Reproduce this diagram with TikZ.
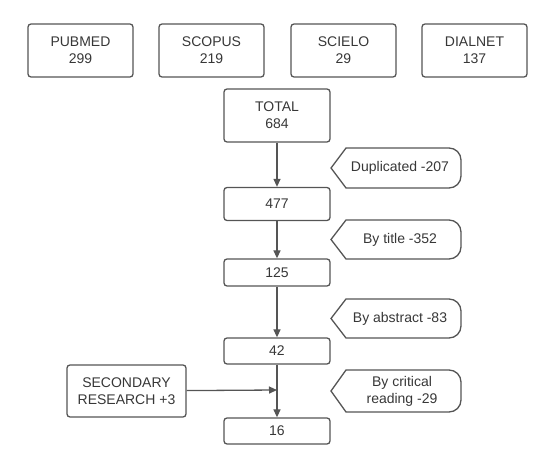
\documentclass[tikz,border=0pt]{standalone}
\usepackage{fontspec}
\setmainfont{Liberation Sans}
\usetikzlibrary{arrows.meta}
\definecolor{boxline}{RGB}{85, 85, 85}
\definecolor{boxtext}{RGB}{55, 55, 55}

\begin{document}
\begin{tikzpicture}[
        x=1pt, y=1pt,
        every node/.style={align=center, text=boxtext, font=\fontsize{14}{17}\selectfont},
        srcbox/.style={draw=boxline, line width=1.3pt, rounded corners=3pt, minimum width=105pt, minimum height=53pt, inner sep=0pt},
        stepbox/.style={draw=boxline, line width=1.3pt, rounded corners=3pt, minimum width=106pt, inner sep=0pt},
        cutline/.style={draw=boxline, line width=1.3pt},
        flow/.style={draw=boxline, line width=1.3pt, -{Triangle[length=8pt, width=7pt]}}
    ]
        \useasboundingbox (0,0) rectangle (550,456);

        % Databases
        \node[srcbox] (pubmed) at (80.5,405.5) {PUBMED\\299};
        \node[srcbox] (scopus) at (211.5,405.5) {SCOPUS\\219};
        \node[srcbox] (scielo) at (343.5,405.5) {SCIELO\\29};
        \node[srcbox] (dialnet) at (474.5,405.5) {DIALNET\\137};

        % Screening steps
        \node[stepbox, minimum height=53pt] (total) at (277,340.5) {TOTAL\\684};
        \node[stepbox, minimum height=33pt] (n477) at (277,252) {477};
        \node[stepbox, minimum height=27pt] (n125) at (277,183.5) {125};
        \node[stepbox, minimum height=26pt] (n42) at (277,105) {42};
        \node[stepbox, minimum height=26pt] (n16) at (277,25) {16};
        \node[srcbox, minimum width=119pt, minimum height=52pt] (second) at (126.5,65) {SECONDARY\\RESEARCH +3};
        \coordinate (join) at (277,66);

        % Exclusions
        \draw[cutline] (331,288) -- (346,308) -- (449,308) arc[start angle=90, end angle=0, radius=12]
            -- (461,280) arc[start angle=0, end angle=-90, radius=12] -- (346,268) -- cycle;
        \node (dup) at (400,288) {Duplicated -207};
        \draw[cutline] (331,216.5) -- (346,236) -- (449,236) arc[start angle=90, end angle=0, radius=12]
            -- (461,209) arc[start angle=0, end angle=-90, radius=12] -- (346,197) -- cycle;
        \node (title) at (400,216.5) {By title -352};
        \draw[cutline] (331,137.5) -- (346,157) -- (449,157) arc[start angle=90, end angle=0, radius=12]
            -- (461,130) arc[start angle=0, end angle=-90, radius=12] -- (346,118) -- cycle;
        \node (abstract) at (400,137.5) {By abstract -83};
        \draw[cutline] (331,65) -- (346,86) -- (449,86) arc[start angle=90, end angle=0, radius=12]
            -- (461,56) arc[start angle=0, end angle=-90, radius=12] -- (346,44) -- cycle;
        \node (critical) at (402,65) {By critical\\reading -29};

        % Arrows
        \draw[flow] (total) -- (n477);
        \draw[flow] (n477) -- (n125);
        \draw[flow] (n125) -- (n42);
        \draw[flow] (n42) -- (n16);
        \draw[flow] (second) -- (join);
    \end{tikzpicture}
\end{document}
